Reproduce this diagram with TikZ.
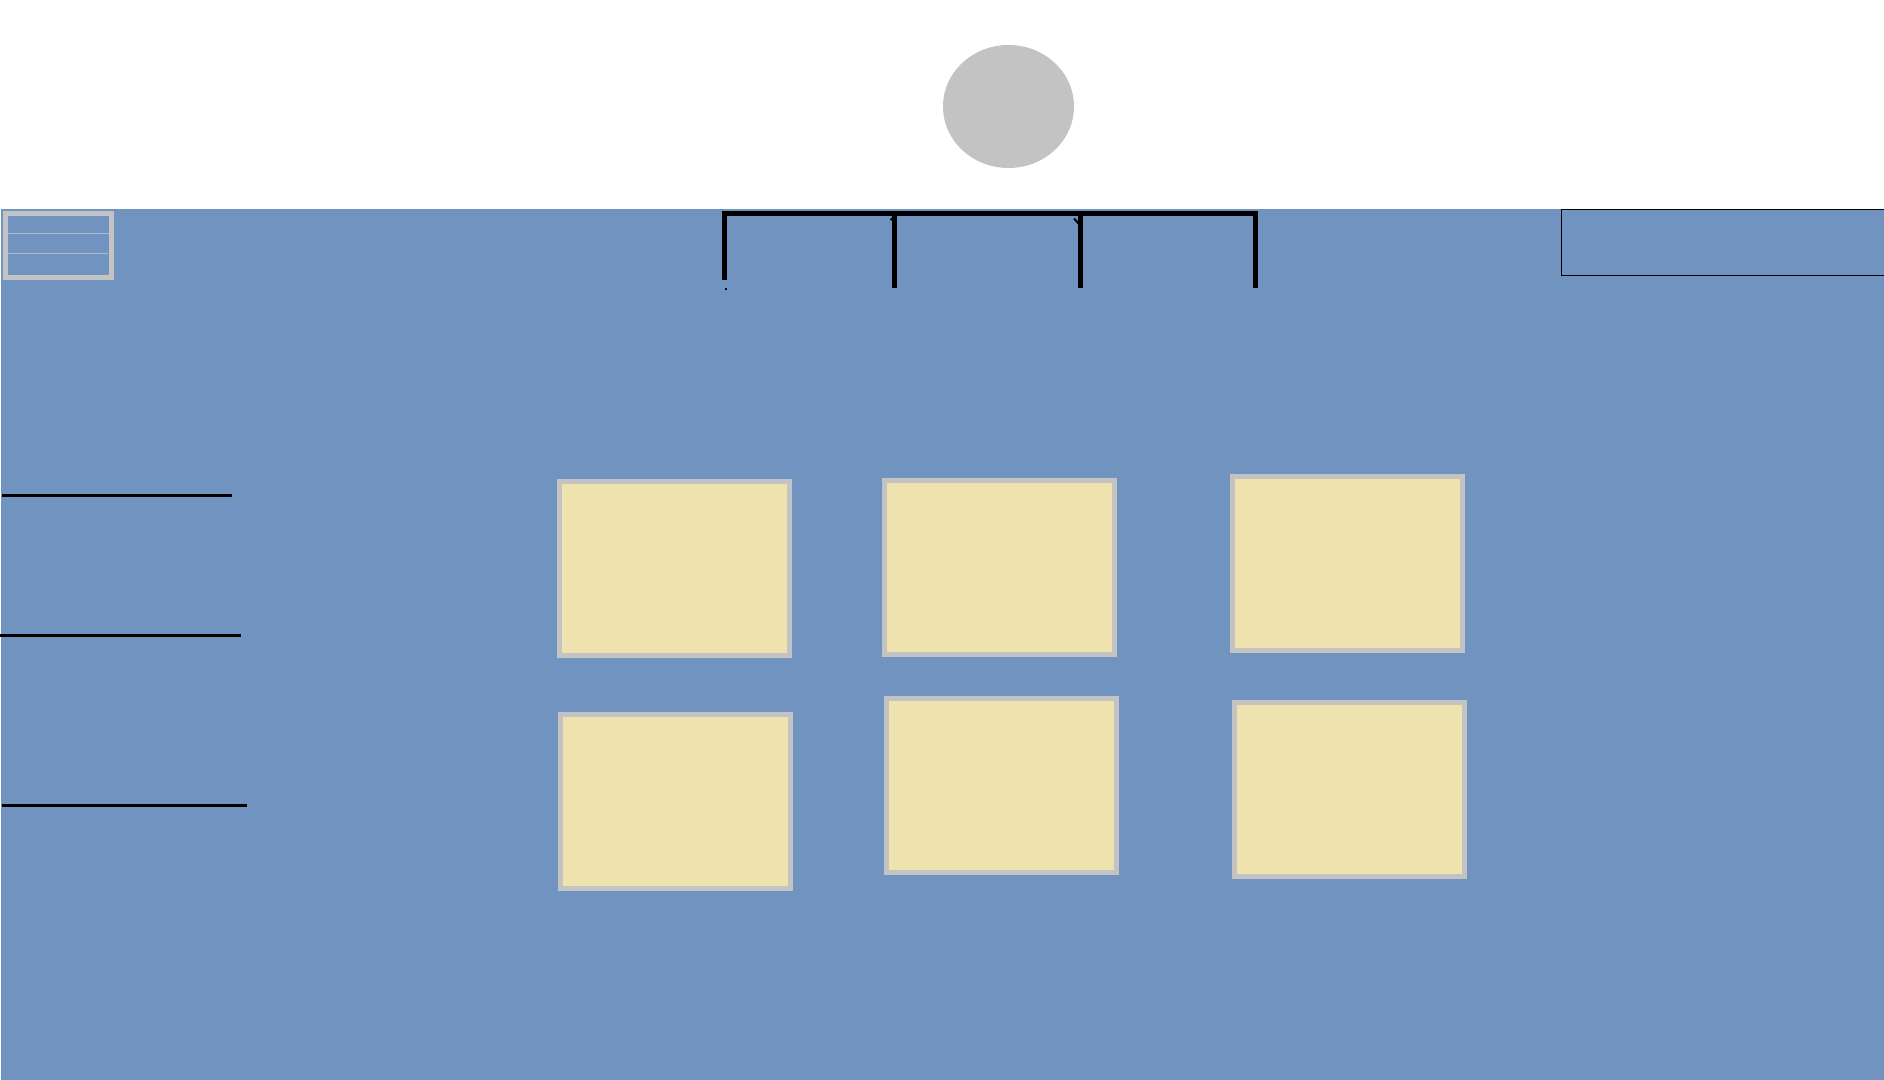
\documentclass[tikz,border=0pt]{standalone}
\usetikzlibrary{shapes.geometric}
\definecolor{pageblue}{RGB}{112,147,191}
\definecolor{paneyellow}{RGB}{238,226,175}
\definecolor{framegray}{RGB}{195,195,195}
\definecolor{linegray}{RGB}{176,186,204}
\tikzset{
  panel/.style={rectangle, draw=framegray, fill=paneyellow, line width=2.5pt,
    inner sep=0pt, outer sep=0pt, minimum width=115pt, minimum height=87pt},
  avatar/.style={ellipse, fill=framegray, inner sep=0pt,
    minimum width=65.5pt, minimum height=61.5pt},
  tabline/.style={line width=2.5pt, black},
  tickmark/.style={line width=1pt, black},
  menuline/.style={line width=1.2pt, black, line cap=butt},
  thinline/.style={line width=0.5pt, linegray},
}
\begin{document}
\begin{tikzpicture}[x=0.5pt,y=-0.5pt]
\useasboundingbox (0,0) rectangle (1884,1080);
\fill[white] (0,0) rectangle (1884,1080);
\fill[pageblue] (1,209) rectangle (1884,1080);
% avatar
\node[avatar] (avatar) at (1008.5,106.5) {};
% hamburger icon
\draw[framegray, line width=2.5pt] (5.5,213.5) rectangle (111.5,277.5);
\draw[thinline] (8,233.3) -- (109,233.3);
\draw[thinline] (8,253.3) -- (108,253.3);
% tab bracket
\coordinate (t1b) at (724.5,280.5);
\coordinate (t1t) at (724.5,214);
\coordinate (t4t) at (1255,214);
\coordinate (t4b) at (1255,288.5);
\coordinate (t2t) at (894,214);
\coordinate (t2b) at (894,288.5);
\coordinate (t3t) at (1080,214);
\coordinate (t3b) at (1080,288.5);
\draw[tabline, line join=miter] (t1b) -- (t1t) -- (t4t) -- (t4b);
\draw[tabline] (t2t) -- (t2b);
\draw[tabline] (t3t) -- (t3b);
% small marks
\coordinate (m1a) at (725,289.5); \coordinate (m1b) at (727,289.5);
\coordinate (m2a) at (890.5,220); \coordinate (m2b) at (893,218);
\coordinate (m3a) at (1074,218.5); \coordinate (m3b) at (1079,224);
\draw[tickmark] (m1a) -- (m1b);
\draw[tickmark] (m2a) -- (m2b);
\draw[tickmark] (m3a) -- (m3b);
% search box top right
\coordinate (s1) at (1884,209.8);
\coordinate (s2) at (1561.5,209.8);
\coordinate (s3) at (1561.5,275.3);
\coordinate (s4) at (1884,275.3);
\draw[black, line width=0.7pt] (s1) -- (s2) -- (s3) -- (s4);
% left menu lines
\coordinate (l1a) at (2,495.3);   \coordinate (l1b) at (232,495.3);
\coordinate (l2a) at (0,635.3);   \coordinate (l2b) at (240.7,635.3);
\coordinate (l3a) at (2,805.3);   \coordinate (l3b) at (246.7,805.3);
\draw[menuline] (l1a) -- (l1b);
\draw[menuline] (l2a) -- (l2b);
\draw[menuline] (l3a) -- (l3b);
% panels
\node[panel] (p1) at (674.5,568.5) {};
\node[panel] (p2) at (999.5,567.5) {};
\node[panel] (p3) at (1347.5,563.5) {};
\node[panel] (p4) at (675.5,801.5) {};
\node[panel] (p5) at (1001.5,785.5) {};
\node[panel] (p6) at (1349.5,789.5) {};
\end{tikzpicture}
\end{document}
